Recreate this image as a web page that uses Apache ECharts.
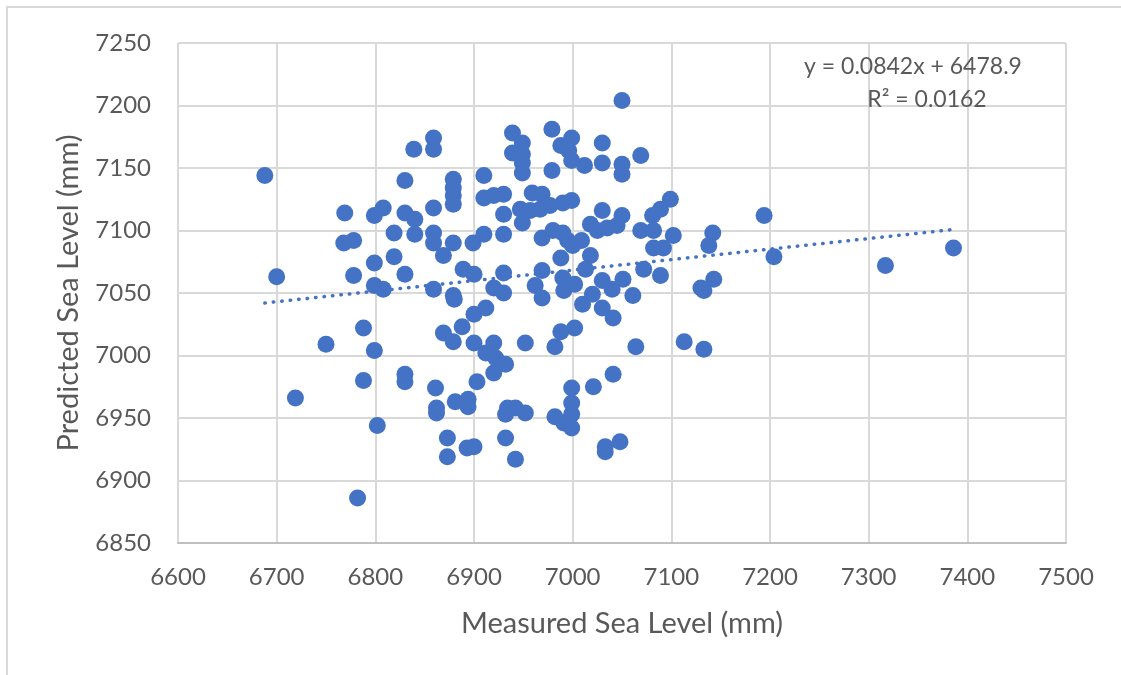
<!DOCTYPE html>
<html>
<head>
<meta charset="utf-8">
<script src="https://cdn.jsdelivr.net/npm/echarts@6/dist/echarts.min.js"></script>
<style>html,body{margin:0;padding:0;background:#fff}#c{width:1121px;height:675px}</style>
</head>
<body>
<div id="c"></div>
<script>
// Measured sea level (x) and predicted sea level (y), in mm
const measured = [
6688,6700,6719,6750,6782,6788,6788,6799,6802,6778,6769,6768,6778,6799,6799,6808,6799,6808,6819,6819,
6830,6830,6840,6830,6830,6830,6839,6840,6859,6859,6859,6859,6859,6859,6861,6862,6862,6869,6869,6873,
6873,6879,6879,6879,6879,6879,6879,6880,6879,6881,6889,6900,6888,6900,6894,6894,6893,6900,6903,6900,
6899,6912,6910,6910,6910,6920,6930,6930,6930,6939,6939,6949,6949,6949,6949,6959,6969,6947,6957,6967,
6977,6990,6999,6949,6979,6988,6999,6996,6999,7012,6979,7030,7030,7069,7050,7050,7030,7050,6969,6980,
6990,6995,7018,7025,7035,7045,7069,6988,7018,6930,6969,6962,6969,6990,6991,7002,7013,6920,6930,7030,
7040,7051,7061,7010,7020,7030,7041,6988,7002,6952,6982,7064,6920,6912,6922,6932,6920,7041,6932,6934,
6942,6952,6932,6942,6982,6991,6999,6999,6999,6999,7021,7033,7033,7048,7050,7099,7089,7081,7082,7102,
7082,7092,7072,7089,7142,7138,7143,7130,7133,7113,7133,7194,7204,7317,7386,7000,7009
];
const predicted = [
7144,7063,6966,7009,6886,7022,6980,7004,6944,7064,7114,7090,7092,7074,7056,7053,7112,7118,7098,7079,
7140,7114,7109,7065,6985,6979,7165,7097,7174,7165,7118,7098,7090,7053,6974,6958,6954,7080,7018,6934,
6919,7141,7134,7128,7121,7090,7048,7045,7011,6963,7069,7065,7023,7010,6965,6959,6926,6927,6979,7033,
7090,7038,7097,7144,7126,7128,7129,7113,7097,7178,7162,7170,7161,7154,7146,7130,7129,7117,7116,7117,
7120,7122,7124,7106,7181,7168,7174,7164,7156,7152,7148,7170,7154,7160,7153,7145,7116,7112,7094,7100,
7098,7092,7105,7100,7102,7104,7100,7078,7080,7066,7068,7056,7046,7062,7052,7057,7069,7054,7050,7060,
7053,7061,7048,7041,7049,7038,7030,7019,7022,7010,7007,7007,7010,7002,6998,6993,6986,6985,6953,6958,
6958,6954,6934,6917,6951,6946,6942,6953,6962,6974,6975,6923,6927,6931,7204,7125,7117,7112,7100,7096,
7086,7086,7069,7064,7098,7088,7061,7054,7052,7011,7005,7112,7079,7072,7086,7088,7092
];
// Linear trendline shown on the chart
const slope = 0.0842;
const intercept = 6478.9;
const equationText = 'y = 0.0842x + 6478.9';
const r2Text = 'R² = 0.0162';
const xTicks = {min: 6600, max: 7500, interval: 100};
const yTicks = {min: 6850, max: 7250, interval: 50};

const points = measured.map((x, i) => [x, predicted[i]]);
const xMin = Math.min(...measured), xMax = Math.max(...measured);
const trend = [[xMin, slope * xMin + intercept], [xMax, slope * xMax + intercept]];

const chart = echarts.init(document.getElementById('c'), null, {renderer: 'canvas'});
const txt = '#595959';
const font = 'Lato';
const plain = v => String(v);
chart.setOption({
  animation: false,
  backgroundColor: '#fff',
  grid: {left: 178, right: 55, top: 43, bottom: 132},
  xAxis: {
    type: 'value', min: xTicks.min, max: xTicks.max, interval: xTicks.interval,
    name: 'Measured Sea Level (mm)', nameLocation: 'middle', nameGap: 66,
    nameTextStyle: {color: txt, fontSize: 29, fontFamily: font},
    axisLine: {show: true, lineStyle: {color: '#bfbfbf', width: 2}},
    axisTick: {show: false},
    axisLabel: {color: txt, fontSize: 24, fontFamily: font, margin: 22, formatter: plain},
    splitLine: {show: true, lineStyle: {color: '#d9d9d9', width: 2}}
  },
  yAxis: {
    type: 'value', min: yTicks.min, max: yTicks.max, interval: yTicks.interval,
    name: 'Predicted Sea Level (mm)', nameLocation: 'middle', nameGap: 95,
    nameTextStyle: {color: txt, fontSize: 29, fontFamily: font},
    axisLine: {show: false},
    axisTick: {show: false},
    axisLabel: {color: txt, fontSize: 24, fontFamily: font, margin: 27, formatter: plain},
    splitLine: {show: true, lineStyle: {color: '#d9d9d9', width: 2}}
  },
  series: [
    {
      type: 'line', data: trend, symbol: 'none', silent: true, z: 1,
      lineStyle: {color: '#4472C4', width: 3.5, type: [0.5, 8], cap: 'round'}
    },
    {
      type: 'scatter', data: points, symbol: 'circle', symbolSize: 17, z: 3,
      itemStyle: {color: '#4472C4', opacity: 1}
    }
  ],
  graphic: [
    {type: 'rect', shape: {x: 7, y: 7, width: 1300, height: 800}, silent: true, z: 0,
     style: {fill: 'none', stroke: '#d9d9d9', lineWidth: 2}},
    {type: 'text', x: 913, y: 67, silent: true, z: 100,
     style: {text: equationText, fill: txt, font: '23px Lato', align: 'center', verticalAlign: 'middle'}},
    {type: 'text', x: 927, y: 100, silent: true, z: 100,
     style: {text: r2Text, fill: txt, font: '23px Lato', align: 'center', verticalAlign: 'middle'}}
  ]
});
</script>
</body>
</html>
